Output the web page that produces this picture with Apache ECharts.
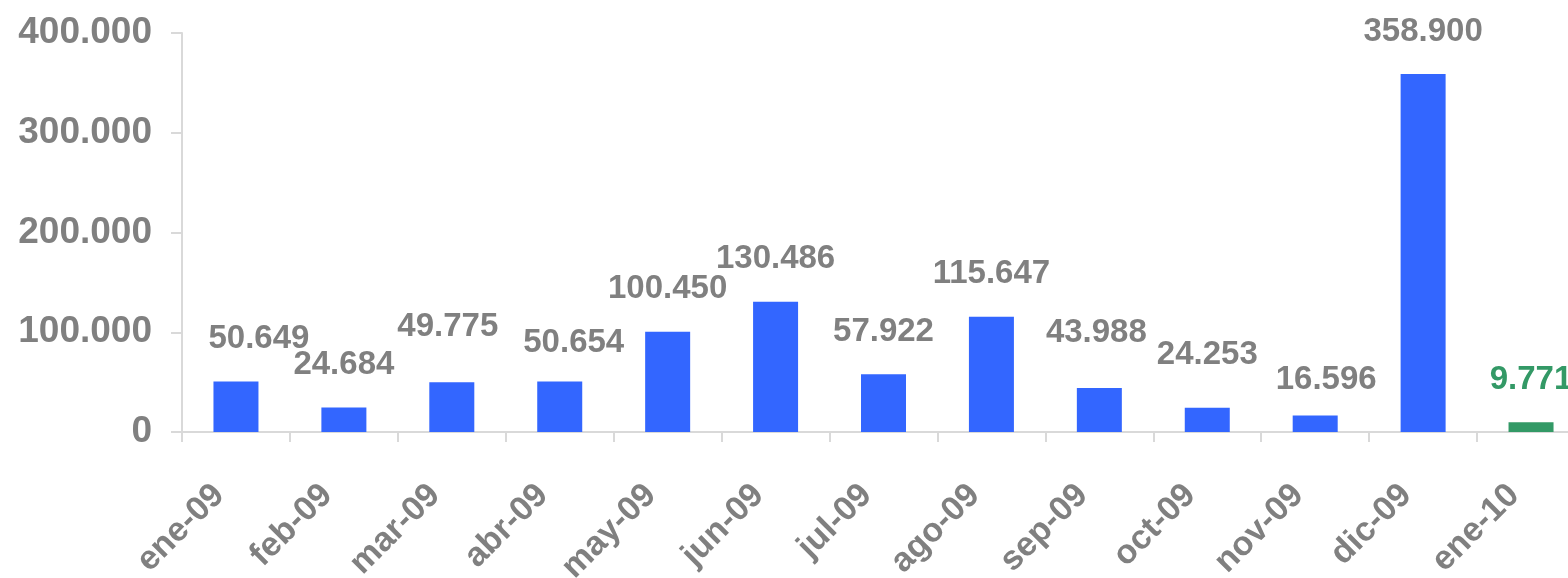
<!DOCTYPE html>
<html>
<head>
<meta charset="utf-8">
<script src="https://cdn.jsdelivr.net/npm/echarts@6/dist/echarts.min.js"></script>
<style>
html,body{margin:0;padding:0;background:#fff;}
#chart{width:1568px;height:578px;}
</style>
</head>
<body>
<div id="chart"></div>
<script>
// meses y valores (miles, separador punto)
const months = ['ene-09','feb-09','mar-09','abr-09','may-09','jun-09','jul-09','ago-09','sep-09','oct-09','nov-09','dic-09','ene-10'];
const values = [50649, 24684, 49775, 50654, 100450, 130486, 57922, 115647, 43988, 24253, 16596, 358900, 9771];
const yTicks = [0, 100000, 200000, 300000, 400000];

const BLUE = '#3366FF';
const GREEN = '#339966';
const GREY = '#808080';
const FONT = '"Liberation Sans", Arial, sans-serif';

// formato 1.234.567
function fmt(v){
    return String(v).replace(/\B(?=(\d{3})+(?!\d))/g, '.');
}

// ajustes manuales de las etiquetas (como en el original)
const nudge = {0:[23,0], 2:[-4,-13], 3:[14,4], 8:[-3,-13], 9:[0,-10], 10:[11,7]};

const seriesData = values.map((v, i) => {
    const last = i === values.length - 1;
    const item = {value: v};
    item.itemStyle = {color: last ? GREEN : BLUE};
    item.label = {color: last ? GREEN : GREY};
    if (nudge[i]) item.label.offset = nudge[i];
    return item;
});

const chart = echarts.init(document.getElementById('chart'), null, {renderer:'canvas'});
chart.setOption({
    animation: false,
    backgroundColor: '#fff',
    grid: {left: 182, top: 33, bottom: 146, right: -17, containLabel: false, outerBoundsMode: 'none'},
    xAxis: {
        type: 'category',
        data: months,
        axisLine: {lineStyle: {color: '#d9d9d9', width: 2}},
        axisTick: {show: true, length: 10, alignWithLabel: false, lineStyle: {color: '#d9d9d9', width: 2}},
        axisLabel: {
            rotate: 45,
            margin: 41,
            padding: [0, 24, 0, 0],
            color: GREY,
            fontSize: 34,
            fontWeight: 'bold',
            fontFamily: FONT,
            interval: 0
        }
    },
    yAxis: {
        type: 'value',
        min: yTicks[0],
        max: yTicks[yTicks.length - 1],
        interval: yTicks[1] - yTicks[0],
        splitLine: {show: false},
        axisLine: {show: true, lineStyle: {color: '#d9d9d9', width: 2}},
        axisTick: {show: true, inside: false, length: 11, lineStyle: {color: '#d9d9d9', width: 2}},
        axisLabel: {
            margin: 30,
            color: GREY,
            fontSize: 37,
            fontWeight: 'bold',
            fontFamily: FONT,
            formatter: v => fmt(v)
        }
    },
    series: [{
        type: 'bar',
        data: seriesData,
        barWidth: 45,
        label: {
            show: true,
            position: 'top',
            distance: 26,
            fontSize: 33,
            fontWeight: 'bold',
            fontFamily: FONT,
            formatter: p => fmt(p.value)
        }
    }]
});
</script>
</body>
</html>
